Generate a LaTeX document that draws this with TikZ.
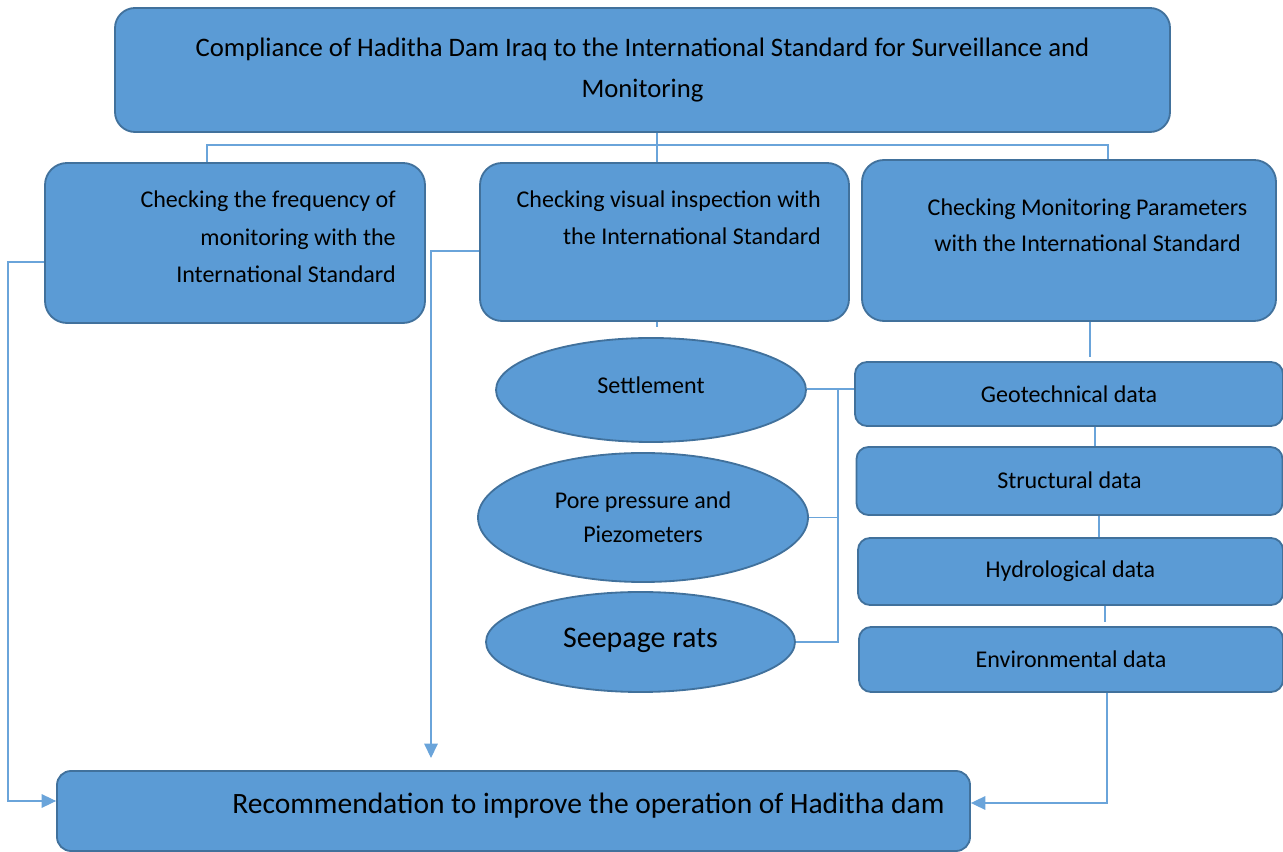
\documentclass[tikz,border=0pt]{standalone}
\usepackage{fontspec}
\setmainfont{Carlito}
\usetikzlibrary{shapes.geometric, arrows.meta, positioning, calc}

\definecolor{boxfill}{HTML}{5B9BD5}
\definecolor{boxline}{HTML}{41719C}
\definecolor{linkcol}{HTML}{6AA4DA}

\begin{document}
\begin{tikzpicture}[
		box/.style={draw=boxline, line width=1.3pt, fill=boxfill, rounded corners=0.55cm, inner sep=0pt},
		databox/.style={box, rounded corners=0.3cm, minimum width=10.65cm, minimum height=1.65cm, font=\fontsize{17.1}{20}\selectfont},
		oval/.style={ellipse, draw=boxline, line width=1.3pt, fill=boxfill, inner sep=0pt},
		txt/.style={inner sep=0pt, font=\fontsize{17.1}{26.5}\selectfont},
		link/.style={draw=linkcol, line width=0.8pt},
		arrowlink/.style={link, -{Triangle[length=3.6mm, width=3.4mm]}}
		]
		\useasboundingbox (0,0) rectangle (32.075,21.275);
		
		% Top: title
		\node[box, rounded corners=0.5cm, minimum width=26.375cm, minimum height=3.1cm, align=center,
		font=\fontsize{19}{26.5}\selectfont] (title) at (16.0625,19.525)
		{\raisebox{0.1cm}{Compliance of Haditha Dam Iraq to the International Standard for Surveillance and}\\Monitoring};
		
		% Middle row: the three checks
		\node[box, minimum width=9.5cm, minimum height=4cm] (freq) at (5.875,15.2) {};
		\node[txt, anchor=east, align=right] (freqtext) at (9.9,15.35)
		{Checking the frequency of\\monitoring with the\\International Standard};
		
		\node[box, minimum width=9.225cm, minimum height=3.95cm] (visual) at (16.6125,15.225) {};
		\node[txt, anchor=east, align=right] (visualtext) at (20.525,15.8375)
		{Checking visual inspection with\\the International Standard};
		
		\node[box, minimum width=10.35cm, minimum height=4.025cm] (param) at (26.725,15.2625) {};
		\node[txt, align=center, font=\fontsize{17.1}{25.5}\selectfont] (paramtext) at (27.1875,15.65)
		{Checking Monitoring Parameters\\with the International Standard};
		
		% Ellipses
		\node[oval, minimum width=7.75cm, minimum height=2.6cm, font=\fontsize{17.1}{20}\selectfont] (settle) at (16.275,11.525)
		{\raisebox{0.26cm}{Settlement}};
		\node[oval, minimum width=8.25cm, minimum height=3.225cm, align=center,
		font=\fontsize{17.1}{24}\selectfont] (pore) at (16.075,8.3375) {Pore pressure and\\Piezometers};
		\node[oval, minimum width=7.725cm, minimum height=2.5cm, font=\fontsize{21.3}{24}\selectfont] (seep) at (16.0125,5.225)
		{\raisebox{0.2cm}{Seepage rats}};
		
		% Right column: data
		\node[databox, minimum width=10.7cm, minimum height=1.6cm] (geo) at (26.725,11.425) {Geotechnical data};
		\node[databox, minimum height=1.7cm] (struct) at (26.7375,9.25) {\raisebox{0.05cm}{Structural data}};
		\node[databox, minimum width=10.625cm, minimum height=1.675cm] (hydro) at (26.7625,6.9875) {Hydrological data};
		\node[databox, minimum width=10.6cm, minimum height=1.625cm] (env) at (26.775,4.7875) {Environmental data};
		
		% Bottom: recommendation
		\node[box, rounded corners=0.35cm, minimum width=22.825cm, minimum height=2cm] (recom) at (12.8375,1.0) {};
		\node[txt, font=\fontsize{21}{24}\selectfont] (recomtext) at (14.71,1.125)
		{Recommendation to improve the operation of Haditha dam};
		
		% Connectors
		\coordinate (split) at (16.425,17.65);
		\draw[link] (title.south -| split) -- (split);
		\draw[link] (split) -| (5.175,0 |- freq.north);
		\draw[link] (split) -- (visual.north -| split);
		\draw[link] (split) -| (27.7,0 |- param.north);
		\draw[link] (visual.south -| split) -- ++(0,-0.13);
		
		\draw[arrowlink] ([yshift=-4.75mm]freq.west) -| (0.2,1.25) -- ([yshift=2.5mm]recom.west);
		\coordinate (dropB) at (10.775,2.325);
		\draw[arrowlink] ([yshift=-2.25mm]visual.west) -| (dropB);
		
		\draw[link] (param.south -| 27.25,0) -- ([yshift=1mm]geo.north -| 27.25,0);
		\draw[link] (geo.south -| 27.375,0) -- (struct.north -| 27.375,0);
		\draw[link] (struct.south -| 27.475,0) -- (hydro.north -| 27.475,0);
		\draw[link] (hydro.south -| 27.625,0) -- ([yshift=1mm]env.north -| 27.625,0);
		\draw[arrowlink] (env.south -| 27.675,0) |- ([yshift=2mm]recom.east);
		
		\coordinate (bus) at (20.95,11.55);
		\draw[link] (settle.east |- bus) -- (geo.west |- bus);
		\draw[link] (pore.east) -- (pore.east -| bus);
		\draw[link] (seep.east) -| (bus);
		
	\end{tikzpicture}
\end{document}
